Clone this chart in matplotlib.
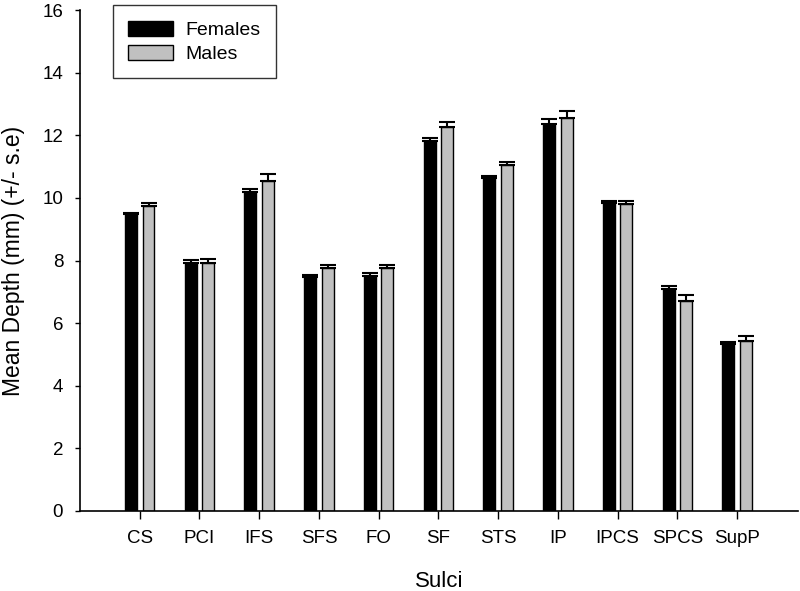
import numpy as np
import matplotlib.pyplot as plt

plt.rcParams['font.family'] = ['Liberation Sans', 'DejaVu Sans']

# data
sulci = ['CS', 'PCI', 'IFS', 'SFS', 'FO', 'SF', 'STS', 'IP', 'IPCS', 'SPCS', 'SupP']
females = [9.47, 7.93, 10.18, 7.47, 7.52, 11.82, 10.63, 12.35, 9.83, 7.10, 5.33]
females_se = [0.05, 0.10, 0.12, 0.08, 0.08, 0.10, 0.07, 0.17, 0.08, 0.10, 0.06]
males = [9.75, 7.93, 10.55, 7.75, 7.76, 12.25, 11.04, 12.55, 9.81, 6.72, 5.44]
males_se = [0.10, 0.12, 0.20, 0.10, 0.10, 0.17, 0.12, 0.22, 0.10, 0.17, 0.14]

x = np.arange(len(sulci))
w = 0.2
off = 0.147

fig = plt.figure(figsize=(8, 5.91), dpi=100)
ax = fig.add_axes([0.1, 0.1354, 0.8975, 0.8476])

ekw = dict(elinewidth=1.5, capthick=1.5, ecolor='black')
ax.bar(x - off, females, w, color='black', edgecolor='black', linewidth=1,
       yerr=[np.zeros(len(x)), females_se], capsize=5.5, error_kw=ekw, label='Females')
ax.bar(x + off, males, w, color='#c0c0c0', edgecolor='black', linewidth=1,
       yerr=[np.zeros(len(x)), males_se], capsize=5.5, error_kw=ekw, label='Males')

ax.set_xlim(-1.0, 11.02)
ax.set_ylim(0, 16)
ax.set_yticks(range(0, 17, 2))
ax.set_xticks(x)
ax.set_xticklabels(sulci)
ax.tick_params(axis='both', labelsize=13.5, direction='out', width=1)
ax.tick_params(axis='x', length=6, pad=7.5)
ax.tick_params(axis='y', length=3.6, pad=8.5)
ax.spines['top'].set_visible(False)
ax.spines['right'].set_visible(False)
ax.spines['left'].set_linewidth(1.2)
ax.spines['bottom'].set_linewidth(1.2)

ax.set_xlabel('Sulci', fontsize=16)
ax.xaxis.set_label_coords(0.5, -0.12)
ax.set_ylabel('Mean Depth (mm) (+/- s.e)', fontsize=16.5)
ax.yaxis.set_label_coords(-0.076, 0.5)

leg = ax.legend(loc='upper left', bbox_to_anchor=(0.141, 0.9915), bbox_transform=fig.transFigure,
                fontsize=14, frameon=True, fancybox=False, edgecolor='black',
                handlelength=2.3, handleheight=0.82, handletextpad=0.62,
                borderpad=0.8, labelspacing=0.29, borderaxespad=0)
leg.get_frame().set_linewidth(1)

fig.savefig('out.png', dpi=100)
